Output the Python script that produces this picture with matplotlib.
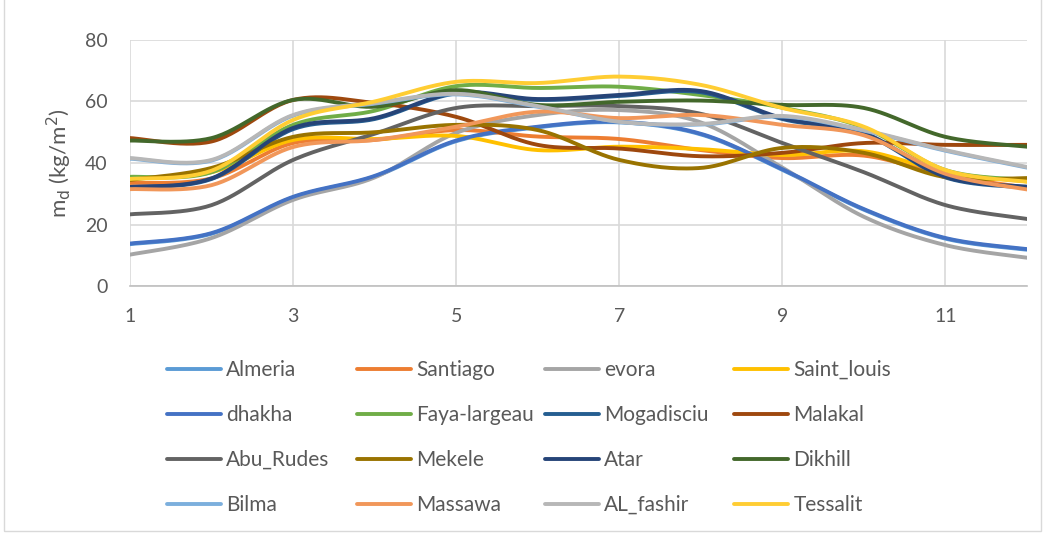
import matplotlib
matplotlib.use("Agg")
import matplotlib.pyplot as plt
import numpy as np
from matplotlib.patches import Rectangle

months = list(range(1, 13))

almeria = [13.6, 17.0, 28.8, 35.6, 47.1, 51.6, 53.2, 49.3, 37.8, 24.8, 15.4, 11.8]
santiago = [33.5, 35.0, 46.5, 47.5, 50.7, 48.6, 47.8, 44.2, 41.6, 42.4, 36.0, 32.0]
evora = [10.2, 15.6, 28.0, 35.3, 49.8, 55.6, 57.2, 53.2, 38.5, 22.5, 13.3, 9.2]
saint_louis = [35.0, 37.0, 47.5, 47.8, 48.8, 44.2, 45.3, 44.5, 42.6, 43.8, 37.0, 34.0]
dhakha = [13.8, 17.2, 29.0, 35.8, 47.3, 51.8, 53.4, 49.5, 38.0, 25.0, 15.6, 12.0]
faya = [35.5, 37.0, 52.4, 57.0, 65.0, 64.4, 64.8, 62.1, 58.0, 51.5, 37.7, 34.5]
mogadisciu = [32.0, 34.8, 51.0, 54.3, 62.6, 60.5, 61.8, 63.0, 54.3, 49.5, 35.3, 32.0]
malakal = [48.1, 47.0, 60.5, 59.5, 55.0, 45.9, 44.7, 42.2, 43.3, 46.5, 45.9, 45.9]
abu_rudes = [23.3, 26.3, 41.0, 49.5, 57.9, 58.5, 58.5, 56.0, 46.5, 37.0, 26.3, 21.8]
mekele = [34.5, 38.4, 48.5, 50.0, 52.4, 50.7, 41.0, 38.4, 44.9, 43.3, 35.4, 35.1]
atar = [32.2, 35.0, 51.4, 54.6, 62.9, 60.8, 62.1, 63.4, 54.6, 49.8, 35.5, 32.3]
dikhill = [47.3, 48.1, 60.5, 58.3, 63.7, 58.9, 59.9, 60.3, 58.9, 57.9, 48.5, 45.3]
bilma = [41.4, 40.8, 55.4, 59.3, 62.3, 58.3, 53.4, 52.5, 55.1, 50.5, 44.0, 38.5]
massawa = [31.5, 32.8, 45.2, 47.5, 51.8, 56.7, 54.6, 55.6, 52.4, 49.0, 36.5, 31.4]
al_fashir = [41.6, 41.0, 55.6, 59.5, 62.5, 58.5, 53.4, 52.7, 55.3, 50.7, 44.2, 38.7]
tessalit = [34.8, 37.5, 54.0, 60.0, 66.4, 66.0, 68.1, 65.4, 57.9, 51.8, 37.7, 33.9]

names = ["Almeria", "Santiago", "evora", "Saint_louis", "dhakha", "Faya-largeau",
         "Mogadisciu", "Malakal", "Abu_Rudes", "Mekele", "Atar", "Dikhill",
         "Bilma", "Massawa", "AL_fashir", "Tessalit"]
series = [almeria, santiago, evora, saint_louis, dhakha, faya, mogadisciu, malakal,
          abu_rudes, mekele, atar, dikhill, bilma, massawa, al_fashir, tessalit]
colors = ["#5B9BD5", "#ED7D31", "#A5A5A5", "#FFC000", "#4472C4", "#70AD47",
          "#255E91", "#9E480E", "#636363", "#997300", "#264478", "#43682B",
          "#7CAFDD", "#F1975A", "#B7B7B7", "#FFCD33"]


def smooth(x, y, n=30):
    # excel-style smoothed line (bezier through the points)
    x = np.asarray(x, float)
    y = np.asarray(y, float)
    px = np.concatenate([[x[0]], x, [x[-1]]])
    py = np.concatenate([[y[0]], y, [y[-1]]])
    xs, ys = [], []
    t = np.linspace(0, 1, n)
    for i in range(len(x) - 1):
        p0 = np.array([px[i + 1], py[i + 1]])
        p3 = np.array([px[i + 2], py[i + 2]])
        c1 = p0 + (p3 - np.array([px[i], py[i]])) / 6
        c2 = p3 - (np.array([px[i + 3], py[i + 3]]) - p0) / 6
        b = ((1 - t) ** 3)[:, None] * p0 + (3 * (1 - t) ** 2 * t)[:, None] * c1 \
            + (3 * (1 - t) * t ** 2)[:, None] * c2 + (t ** 3)[:, None] * p3
        xs.extend(b[:, 0])
        ys.extend(b[:, 1])
    return xs, ys


plt.rcParams['font.family'] = ['Lato', 'DejaVu Sans']

fig = plt.figure(figsize=(10.52, 5.33), dpi=100)
ax = fig.add_axes([130 / 1052, 1 - 286 / 533, 897 / 1052, 246 / 533])

handles = []
for name, vals, c in zip(names, series, colors):
    sx, sy = smooth(months, vals)
    ln, = ax.plot(sx, sy, color=c, lw=2.8, solid_capstyle='round', label=name)
    handles.append(ln)

ax.set_xlim(1, 12)
ax.set_ylim(0, 80)
ax.set_xticks([1, 3, 5, 7, 9, 11])
ax.set_yticks([0, 20, 40, 60, 80])
ax.grid(True, color="#D9D9D9", lw=1.2)
ax.set_axisbelow(True)
for s in ["top", "right", "left"]:
    ax.spines[s].set_visible(False)
ax.spines["bottom"].set_color("#BFBFBF")
ax.spines["bottom"].set_linewidth(1.2)
ax.tick_params(length=0, labelsize=14, labelcolor="#595959")
ax.tick_params(axis="x", pad=16)
ax.tick_params(axis="y", pad=16)
ax.set_ylabel(r"m$_\mathrm{d}$ (kg/m$^2$)", fontsize=16, color="#595959", labelpad=8)

# legend: 4 equally spaced columns
col_x = [167, 357, 545, 734]
for j in range(4):
    hs = [handles[i * 4 + j] for i in range(4)]
    leg = fig.legend(hs, [h.get_label() for h in hs], loc="upper left",
                     bbox_to_anchor=(col_x[j] / 1052, 1 - 360 / 533),
                     frameon=False, fontsize=15, handlelength=2.6,
                     handletextpad=0.25, labelspacing=1.2, borderpad=0,
                     borderaxespad=0)
    for t in leg.get_texts():
        t.set_color("#595959")
    for l in leg.get_lines():
        l.set_linewidth(2.8)

fig.patches.append(Rectangle((4 / 1052, 2 / 533), 1037 / 1052, 540 / 533,
                             transform=fig.transFigure, fill=False,
                             edgecolor="#D9D9D9", lw=1))

fig.savefig("out.png", dpi=100)
